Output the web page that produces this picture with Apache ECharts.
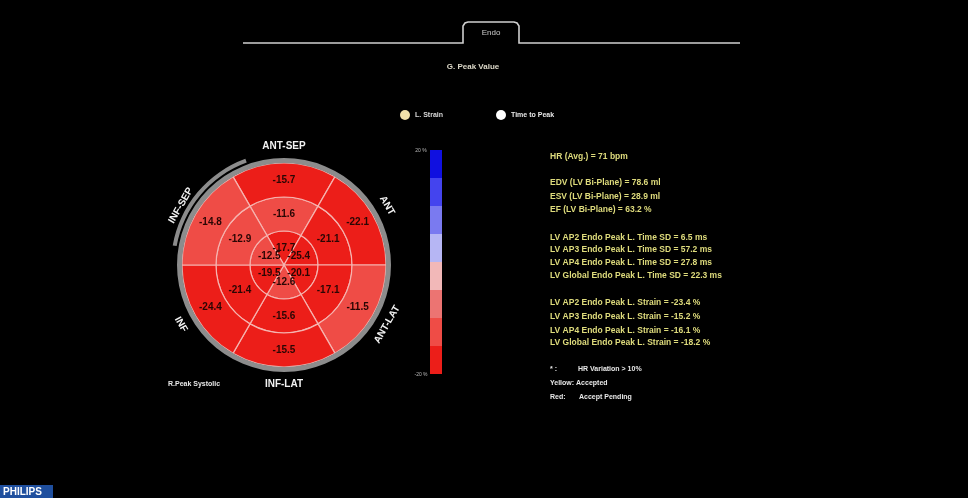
<!DOCTYPE html>
<html>
<head>
<meta charset="utf-8">
<script src="https://cdn.jsdelivr.net/npm/echarts@6/dist/echarts.min.js"></script>
<style>
  html, body { margin: 0; padding: 0; background: #000; }
  #chart { width: 968px; height: 498px; }
</style>
</head>
<body>
<div id="chart"></div>
<script>
// segments clockwise from the top
const walls = ["ANT-SEP", "ANT", "ANT-LAT", "INF-LAT", "INF", "INF-SEP"];
const apexStrain = [-17.7, -25.4, -20.1, -12.6, -19.5, -12.5];
const midStrain = [-11.6, -21.1, -17.1, -15.6, -21.4, -12.9];
const basalStrain = [-15.7, -22.1, -11.5, -15.5, -24.4, -14.8];

// colour bar bands (low -> high); the end bands are open
const bandEdges = [-20, -15, -10, -5, 0, 5, 10, 15, 20];
const bandColors = ["#ec1e19", "#ef4c46", "#ec7472", "#f2b8b8", "#b6b6f4", "#7a7af0", "#4444ee", "#1010e0"];

const infoLines = [
    "HR (Avg.) = 71 bpm", "",
    "EDV (LV Bi-Plane) = 78.6 ml",
    "ESV (LV Bi-Plane) = 28.9 ml",
    "EF (LV Bi-Plane) = 63.2 %", "",
    "LV AP2 Endo Peak L. Time SD = 6.5 ms",
    "LV AP3 Endo Peak L. Time SD = 57.2 ms",
    "LV AP4 Endo Peak L. Time SD = 27.8 ms",
    "LV Global Endo Peak L. Time SD = 22.3 ms", "",
    "LV AP2 Endo Peak L. Strain = -23.4 %",
    "LV AP3 Endo Peak L. Strain = -15.2 %",
    "LV AP4 Endo Peak L. Strain = -16.1 %",
    "LV Global Endo Peak L. Strain = -18.2 %"
];

const FONT = "Liberation Sans, Arial, sans-serif";
const CX = 284, CY = 265, R = 102;

const chart = echarts.init(document.getElementById("chart"));

function ringSeries(name, values) {
    return {
        name: name,
        type: "bar",
        coordinateSystem: "polar",
        stack: "rings",
        barCategoryGap: "0%",
        encode: { radius: 0, angle: 1 },
        data: values.map((v, i) => [1, i, v]),
        itemStyle: { borderColor: "#f6b4b0", borderWidth: 1.2 },
        label: {
            show: true,
            position: "middle",
            rotate: 0,
            formatter: (p) => p.value[2].toFixed(1),
            color: "#2a0604",
            fontFamily: FONT,
            fontWeight: "bold",
            fontSize: 10
        },
        silent: true
    };
}

const pieces = bandColors.map((c, i) => {
    const p = { color: c };
    if (i > 0) p.gte = bandEdges[i];
    if (i < bandColors.length - 1) p.lt = bandEdges[i + 1];
    return p;
});

const graphics = [];
// tab outline
graphics.push({
    type: "polyline",
    shape: { points: [[243, 43], [463, 43], [463, 26], [465, 23], [468, 22], [514, 22], [517, 23], [519, 26], [519, 43], [740, 43]] },
    style: { fill: null, stroke: "#cfcfcf", lineWidth: 1.6 },
    silent: true
});
graphics.push({ type: "text", x: 491, y: 33, style: { text: "Endo", fill: "#cccccc", font: "8px " + FONT, align: "center", verticalAlign: "middle" } });
graphics.push({ type: "text", x: 473, y: 67, style: { text: "G. Peak Value", fill: "#dcd8c8", font: "bold 8px " + FONT, align: "center", verticalAlign: "middle" } });
// colour bar end labels
graphics.push({ type: "text", x: 421, y: 151, style: { text: "20 %", fill: "#bbbbbb", font: "5px " + FONT, align: "center", verticalAlign: "middle" } });
graphics.push({ type: "text", x: 421, y: 375, style: { text: "-20 %", fill: "#bbbbbb", font: "5px " + FONT, align: "center", verticalAlign: "middle" } });
// measurements
const lineYs = [157, 170, 183, 197, 210, 224, 238, 250, 263, 276, 290, 303, 317, 331, 343];
infoLines.forEach((t, i) => {
    if (!t) return;
    graphics.push({ type: "text", x: 550, y: lineYs[i], style: { text: t, fill: "#dedb7c", font: "bold 8.5px " + FONT, verticalAlign: "middle" } });
});
const noteStyle = "bold 7px " + FONT;
graphics.push({ type: "text", x: 550, y: 369, style: { text: "* :", fill: "#e8e8e8", font: noteStyle, verticalAlign: "middle" } });
graphics.push({ type: "text", x: 578, y: 369, style: { text: "HR Variation > 10%", fill: "#e8e8e8", font: noteStyle, verticalAlign: "middle" } });
graphics.push({ type: "text", x: 550, y: 383, style: { text: "Yellow: Accepted", fill: "#e8e8e8", font: noteStyle, verticalAlign: "middle" } });
graphics.push({ type: "text", x: 550, y: 397, style: { text: "Red:", fill: "#e8e8e8", font: noteStyle, verticalAlign: "middle" } });
graphics.push({ type: "text", x: 579, y: 397, style: { text: "Accept Pending", fill: "#e8e8e8", font: noteStyle, verticalAlign: "middle" } });
graphics.push({ type: "text", x: 168, y: 384, style: { text: "R.Peak Systolic", fill: "#e8e8e8", font: noteStyle, verticalAlign: "middle" } });
// logo
graphics.push({ type: "rect", shape: { x: 0, y: 485, width: 53, height: 13 }, style: { fill: "#1f4f9e" } });
graphics.push({ type: "text", x: 3, y: 492, style: { text: "PHILIPS", fill: "#ffffff", font: "bold 10px " + FONT, verticalAlign: "middle" } });

const option = {
    backgroundColor: "#000000",
    animation: false,
    polar: { center: [CX, CY], radius: R },
    angleAxis: {
        type: "category",
        data: walls,
        startAngle: 120,
        clockwise: true,
        axisLine: { show: false },
        axisTick: { show: false },
        axisLabel: { show: false },
        splitLine: { show: false }
    },
    radiusAxis: {
        type: "value",
        min: 0,
        max: 3,
        axisLine: { show: false },
        axisTick: { show: false },
        axisLabel: { show: false },
        splitLine: { show: false }
    },
    legend: [
        {
            data: ["L. Strain"], left: 395, top: 105, icon: "circle",
            itemWidth: 10, itemHeight: 10, itemGap: 4,
            textStyle: { color: "#d8d8d8", fontSize: 7, fontWeight: "bold", fontFamily: FONT }
        },
        {
            data: ["Time to Peak"], left: 491, top: 105, icon: "circle",
            itemWidth: 10, itemHeight: 10, itemGap: 4,
            textStyle: { color: "#e8e8e8", fontSize: 7, fontWeight: "bold", fontFamily: FONT }
        }
    ],
    visualMap: {
        type: "piecewise",
        seriesIndex: [0, 1, 2],
        dimension: 2,
        pieces: pieces,
        orient: "vertical",
        left: 430,
        top: 150,
        itemWidth: 12,
        itemHeight: 28,
        itemGap: 0,
        itemSymbol: "rect",
        showLabel: false,
        selectedMode: false,
        padding: 0
    },
    series: [
        ringSeries("Apex", apexStrain),
        ringSeries("Mid", midStrain),
        ringSeries("Basal", basalStrain),
        {
            name: "outline",
            type: "pie",
            center: [CX, CY],
            radius: [R, R + 5],
            silent: true,
            label: { show: false },
            data: [{ value: 1, itemStyle: { color: "#8c8c8c" } }]
        },
        {
            name: "highlight",
            type: "pie",
            center: [CX, CY],
            radius: [R + 7, R + 11],
            startAngle: 170,
            silent: true,
            label: { show: false },
            data: [
                { value: 60, itemStyle: { color: "#8c8c8c" } },
                { value: 300, itemStyle: { color: "rgba(0,0,0,0)" } }
            ]
        },
        {
            name: "walls",
            type: "pie",
            center: [CX, CY],
            radius: [R + 4, R + 24],
            startAngle: 120,
            silent: true,
            itemStyle: { color: "rgba(0,0,0,0)" },
            label: {
                show: true,
                position: "inside",
                rotate: "tangential",
                formatter: "{b}",
                color: "#f2f2f2",
                fontFamily: FONT,
                fontWeight: "bold",
                fontSize: 10
            },
            data: walls.map((w) => ({ name: w, value: 1 }))
        },
        { name: "L. Strain", type: "scatter", coordinateSystem: "polar", data: [], itemStyle: { color: "#f0e0aa", opacity: 1 } },
        { name: "Time to Peak", type: "scatter", coordinateSystem: "polar", data: [], itemStyle: { color: "#ffffff", opacity: 1 } }
    ],
    graphic: graphics
};

chart.setOption(option);
</script>
</body>
</html>
